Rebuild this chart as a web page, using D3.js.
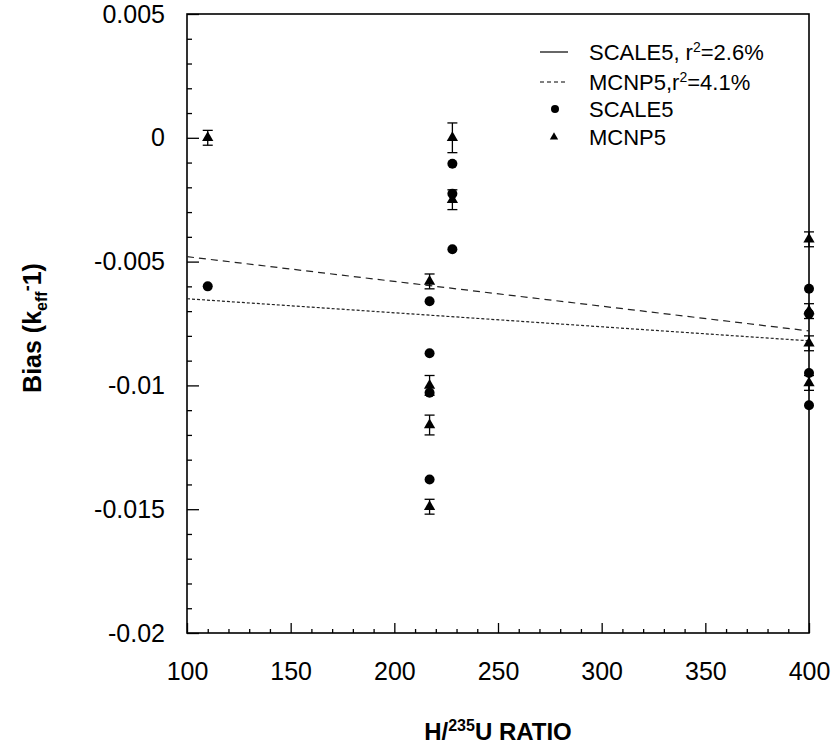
<!DOCTYPE html>
<html>
<head>
<meta charset="utf-8">
<script src="https://cdn.jsdelivr.net/npm/d3@7"></script>
<style>
  body { margin: 0; background: #fff; }
  svg { display: block; font-family: "Liberation Sans", Arial, sans-serif; }
</style>
</head>
<body>
<svg id="chart"></svg>
<script>
// SCALE5 results (circles)
const scaleRatio = [110, 217, 217, 217, 217, 228, 228, 228, 400, 400, 400, 400];
const scaleBias = [-0.0060, -0.0066, -0.0087, -0.0103, -0.0138, -0.00105, -0.00226, -0.0045, -0.0061, -0.0071, -0.0095, -0.0108];

// MCNP5 results (triangles) with 1-sigma error
const mcnpRatio = [110, 217, 217, 217, 217, 228, 228, 400, 400, 400, 400];
const mcnpBias = [0.0000, -0.0058, -0.0100, -0.0116, -0.0149, 0.0000, -0.0025, -0.0041, -0.0070, -0.0083, -0.0099];
const mcnpErr = [0.0003, 0.0003, 0.0004, 0.0004, 0.0003, 0.0006, 0.0004, 0.0003, 0.0003, 0.0003, 0.0003];

// regression lines (end points)
const fitRatio = [100, 400];
const scaleFit = [-0.0065, -0.0082];
const mcnpFit = [-0.0048, -0.0078];

const xTicks = [100, 150, 200, 250, 300, 350, 400];
const yTicks = [0.005, 0, -0.005, -0.01, -0.015, -0.02];

const width = 832, height = 749;
const margin = { top: 14, left: 187, bottom: 116, right: 23 };

const svg = d3.select("#chart").attr("width", width).attr("height", height);

const x = d3.scaleLinear().domain([100, 400]).range([margin.left, width - margin.right]);
const y = d3.scaleLinear().domain([-0.02, 0.005]).range([height - margin.bottom, margin.top]);

const xMinor = d3.range(100, 401, 10).filter(v => v % 50 !== 0);
const yMinor = d3.range(-20, 6, 1).filter(v => v % 5 !== 0).map(v => v / 1000);

//axes
const fmtY = d => d === 0 ? "0" : String(+d.toFixed(3));

svg.append("g")
    .attr("transform", `translate(0,${y(-0.02)})`)
    .call(d3.axisBottom(x).tickValues(xMinor).tickSize(-4).tickFormat(""))
    .call(g => g.select(".domain").remove());

svg.append("g")
    .attr("class", "xaxis")
    .attr("transform", `translate(0,${y(-0.02)})`)
    .call(d3.axisBottom(x).tickValues(xTicks).tickSize(-10).tickPadding(29).tickFormat(d3.format("d")))
    .call(g => g.select(".domain").remove());

svg.append("g")
    .attr("transform", `translate(${x(100)},0)`)
    .call(d3.axisLeft(y).tickValues(yMinor).tickSize(-5).tickFormat(""))
    .call(g => g.select(".domain").remove());

svg.append("g")
    .attr("class", "yaxis")
    .attr("transform", `translate(${x(100)},0)`)
    .call(d3.axisLeft(y).tickValues(yTicks).tickSize(-12).tickPadding(22).tickFormat(fmtY))
    .call(g => g.select(".domain").remove());

svg.selectAll(".tick line").attr("stroke", "#000").attr("stroke-width", 1.3);
svg.selectAll(".xaxis text, .yaxis text")
    .attr("font-family", "Liberation Sans, Arial, sans-serif")
    .attr("font-size", 25)
    .attr("fill", "#000");

//frame
svg.append("rect")
    .attr("x", x(100))
    .attr("y", y(0.005))
    .attr("width", x(400) - x(100))
    .attr("height", y(-0.02) - y(0.005))
    .attr("fill", "none")
    .attr("stroke", "#000")
    .attr("stroke-width", 1.6);

//regression lines
const line = d3.line().x(d => x(d[0])).y(d => y(d[1]));
svg.append("path")
    .datum(fitRatio.map((r, i) => [r, scaleFit[i]]))
    .attr("d", line)
    .attr("fill", "none")
    .attr("stroke", "#222")
    .attr("stroke-width", 1.2)
    .attr("stroke-dasharray", "3,2");
svg.append("path")
    .datum(fitRatio.map((r, i) => [r, mcnpFit[i]]))
    .attr("d", line)
    .attr("fill", "none")
    .attr("stroke", "#222")
    .attr("stroke-width", 1.2)
    .attr("stroke-dasharray", "7,5");

//MCNP5 error bars
const mcnp = mcnpRatio.map((r, i) => ({ r: r, b: mcnpBias[i], e: mcnpErr[i] }));
const eb = svg.append("g").attr("stroke", "#000").attr("stroke-width", 1.3);
eb.selectAll(".ev").data(mcnp).enter().append("line")
    .attr("x1", d => x(d.r)).attr("x2", d => x(d.r))
    .attr("y1", d => y(d.b + d.e)).attr("y2", d => y(d.b - d.e));
eb.selectAll(".et").data(mcnp).enter().append("line")
    .attr("x1", d => x(d.r) - 5).attr("x2", d => x(d.r) + 5)
    .attr("y1", d => y(d.b + d.e)).attr("y2", d => y(d.b + d.e));
eb.selectAll(".eb").data(mcnp).enter().append("line")
    .attr("x1", d => x(d.r) - 5).attr("x2", d => x(d.r) + 5)
    .attr("y1", d => y(d.b - d.e)).attr("y2", d => y(d.b - d.e));

//SCALE5 circles
svg.selectAll(".circle")
    .data(scaleRatio.map((r, i) => [r, scaleBias[i]]))
    .enter()
    .append("circle")
    .attr("cx", d => x(d[0]))
    .attr("cy", d => y(d[1]))
    .attr("r", 5)
    .attr("fill", "#000");

//MCNP5 triangles
const tri = d3.symbol().type(d3.symbolTriangle).size(55);
svg.selectAll(".tri")
    .data(mcnp)
    .enter()
    .append("path")
    .attr("d", tri)
    .attr("transform", d => `translate(${x(d.r)},${y(d.b)})`)
    .attr("fill", "#000");

//legend
const leg = svg.append("g").attr("font-size", 22).attr("fill", "#000");
const legX = 589, legRows = [52, 82, 109, 137];
svg.append("line").attr("x1", 540).attr("x2", 568).attr("y1", legRows[0]).attr("y2", legRows[0])
    .attr("stroke", "#000").attr("stroke-width", 1.2);
svg.append("line").attr("x1", 540).attr("x2", 568).attr("y1", legRows[1]).attr("y2", legRows[1])
    .attr("stroke", "#000").attr("stroke-width", 1).attr("stroke-dasharray", "4,3");
svg.append("circle").attr("cx", 555).attr("cy", legRows[2]).attr("r", 4).attr("fill", "#000");
svg.append("path").attr("d", d3.symbol().type(d3.symbolTriangle).size(30))
    .attr("transform", `translate(554,${legRows[3]})`).attr("fill", "#000");

const t1 = leg.append("text").attr("x", legX).attr("y", legRows[0]).attr("dy", "0.36em");
t1.append("tspan").text("SCALE5, r");
t1.append("tspan").attr("font-size", 14).attr("dy", "-0.55em").text("2");
t1.append("tspan").attr("dy", "0.35em").text("=2.6%");
const t2 = leg.append("text").attr("x", legX).attr("y", legRows[1]).attr("dy", "0.36em");
t2.append("tspan").text("MCNP5,r");
t2.append("tspan").attr("font-size", 14).attr("dy", "-0.55em").text("2");
t2.append("tspan").attr("dy", "0.35em").text("=4.1%");
leg.append("text").attr("x", legX).attr("y", legRows[2]).attr("dy", "0.36em").text("SCALE5");
leg.append("text").attr("x", legX).attr("y", legRows[3]).attr("dy", "0.36em").text("MCNP5");

//axis titles
const xt = svg.append("text")
    .attr("x", 498).attr("y", 740)
    .attr("text-anchor", "middle")
    .attr("font-size", 24).attr("font-weight", "bold");
xt.append("tspan").text("H/");
xt.append("tspan").attr("font-size", 16).attr("dy", -9).text("235");
xt.append("tspan").attr("dy", 9).text("U RATIO");

const yt = svg.append("text")
    .attr("transform", "translate(41,328) rotate(-90)")
    .attr("text-anchor", "middle")
    .attr("font-size", 25).attr("font-weight", "bold");
yt.append("tspan").text("Bias (k");
yt.append("tspan").attr("font-size", 16).attr("dy", 6).text("eff");
yt.append("tspan").attr("font-size", 18).attr("dy", -14).text("-");
yt.append("tspan").attr("dy", 8).text("1)");
</script>
</body>
</html>
